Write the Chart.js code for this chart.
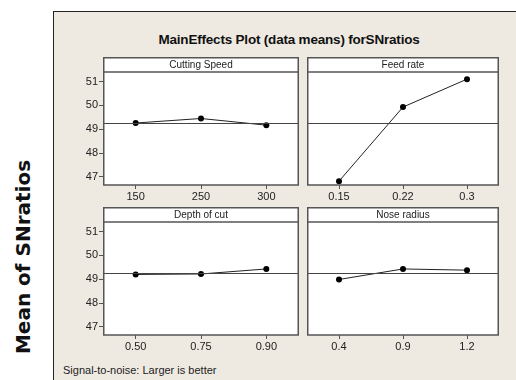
<!DOCTYPE html>
<html>
<head>
<meta charset="utf-8">
<script src="https://cdn.jsdelivr.net/npm/chart.js@4/dist/chart.umd.min.js"></script>
<style>
    html, body { margin: 0; padding: 0; background: #fff; }
    body { width: 516px; height: 380px; position: relative; overflow: hidden; font-family: 'Liberation Sans', Arial, sans-serif; }
    #frame { position: absolute; left: 53px; top: 11px; width: 480px; height: 380px; background: #eeeae1; border-left: 1.5px solid #222; border-top: 1.5px solid #222; }
    .panel { position: absolute; }
    #title { position: absolute; left: 54px; width: 470px; top: 32px; text-align: center; font-weight: bold; font-size: 13.5px; color: #111; white-space: nowrap; letter-spacing: -0.2px; }
    #footer { position: absolute; left: 63px; top: 364px; font-size: 11px; color: #222; white-space: nowrap; }
    #ylabel { position: absolute; left: 23px; top: 257px; transform: translate(-50%, -50%) rotate(-90deg); font-family: 'DejaVu Sans', sans-serif; font-weight: bold; font-size: 20px; color: #111; white-space: nowrap; }
</style>
</head>
<body>
<div id="frame"></div>
<div id="title">MainEffects Plot (data means) forSNratios</div>
<div id="ylabel">Mean of SNratios</div>
<div id="footer">Signal-to-noise: Larger is better</div>

<div class="panel" style="left:60px;top:57px;width:243px;height:148px"><canvas id="c1"></canvas></div>
<div class="panel" style="left:303px;top:57px;width:200px;height:148px"><canvas id="c2"></canvas></div>
<div class="panel" style="left:60px;top:207px;width:243px;height:150px"><canvas id="c3"></canvas></div>
<div class="panel" style="left:303px;top:207px;width:200px;height:150px"><canvas id="c4"></canvas></div>

<script>
// === Data ===
const yTicks = [47, 48, 49, 50, 51];
const grandMean = 49.28;

const cuttingSpeedLevels = ['150', '250', '300'];
const cuttingSpeedSN = [49.26, 49.45, 49.17];

const feedRateLevels = ['0.15', '0.22', '0.3'];
const feedRateSN = [46.82, 49.93, 51.10];

const depthLevels = ['0.50', '0.75', '0.90'];
const depthSN = [49.20, 49.22, 49.43];

const noseLevels = ['0.4', '0.9', '1.2'];
const noseSN = [48.99, 49.43, 49.38];

// === Panel frame: white box, strip header and the grand mean line ===
const panelFrame = {
    id: 'panelFrame',
    beforeDraw(chart, args, opts) {
        const { ctx, chartArea: a } = chart;
        ctx.save();
        ctx.fillStyle = '#fff';
        ctx.fillRect(a.left, 1, a.right - a.left, a.bottom - 1);
        ctx.restore();
    },
    afterDatasetsDraw(chart, args, opts) {
        const { ctx, chartArea: a } = chart;
        const y = Math.round(chart.scales.y.getPixelForValue(grandMean)) + 0.5;
        ctx.save();
        ctx.strokeStyle = '#444';
        ctx.lineWidth = 1;
        ctx.beginPath();
        ctx.moveTo(a.left, y);
        ctx.lineTo(a.right, y);
        ctx.stroke();
        // box + strip
        ctx.strokeStyle = '#555';
        ctx.lineWidth = 1.5;
        ctx.strokeRect(a.left + 0.75, 0.75, a.right - a.left - 1.5, a.bottom - 0.75);
        ctx.beginPath();
        ctx.moveTo(a.left, a.top);
        ctx.lineTo(a.right, a.top);
        ctx.stroke();
        ctx.fillStyle = '#222';
        ctx.font = '10px "Liberation Sans", Arial, sans-serif';
        ctx.textAlign = 'center';
        ctx.textBaseline = 'middle';
        ctx.fillText(opts.label, (a.left + a.right) / 2, a.top / 2 + 1);
        ctx.restore();
    }
};

function makePanel(id, levels, values, label, showY) {
    return new Chart(document.getElementById(id), {
        type: 'line',
        data: {
            labels: levels,
            datasets: [{
                data: values,
                borderColor: '#222',
                borderWidth: 1,
                pointRadius: 3,
                pointBackgroundColor: '#000',
                pointBorderColor: '#000',
                pointBorderWidth: 0,
                tension: 0
            }]
        },
        options: {
            responsive: true,
            maintainAspectRatio: false,
            animation: false,
            layout: { padding: { top: 15, left: 0, right: showY ? 0 : 1, bottom: 0 } },
            plugins: {
                legend: { display: false },
                tooltip: { enabled: false },
                panelFrame: { label: label }
            },
            scales: {
                x: {
                    type: 'category',
                    offset: true,
                    grid: { offset: false, drawOnChartArea: false, drawTicks: true, tickLength: 4, color: '#555', lineWidth: 1 },
                    border: { display: false },
                    ticks: { color: '#222', padding: 1, font: { size: 11, family: '"Liberation Sans", Arial, sans-serif' }, maxRotation: 0 },
                    afterFit(scale) { scale.height = scale.chart.height - 15 - 113; }
                },
                y: {
                    display: showY,
                    min: 46.66,
                    max: 51.4,
                    afterBuildTicks(scale) { scale.ticks = yTicks.map(v => ({ value: v })); },
                    grid: { drawOnChartArea: false, drawTicks: true, tickLength: 4, color: '#555', lineWidth: 1 },
                    border: { display: false },
                    ticks: { color: '#222', padding: 1, font: { size: 11, family: '"Liberation Sans", Arial, sans-serif' } },
                    afterFit(scale) { scale.width = showY ? 43 : 0; }
                }
            }
        },
        plugins: [panelFrame]
    });
}

makePanel('c1', cuttingSpeedLevels, cuttingSpeedSN, 'Cutting Speed', true);
makePanel('c2', feedRateLevels, feedRateSN, 'Feed rate', false);
makePanel('c3', depthLevels, depthSN, 'Depth of cut', true);
makePanel('c4', noseLevels, noseSN, 'Nose radius', false);
</script>
</body>
</html>
